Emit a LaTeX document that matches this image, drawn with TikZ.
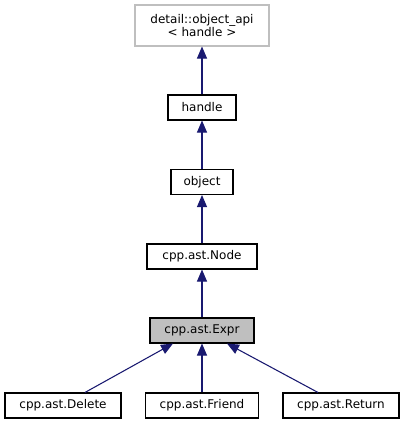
\documentclass[tikz,border=0pt]{standalone}
\usepackage{fontspec}
\setmainfont{DejaVu Sans}
\usetikzlibrary{arrows.meta,calc}
\definecolor{edgeblue}{HTML}{191970}
\definecolor{grayfill}{HTML}{BFBFBF}
\tikzset{
  cls/.style={draw=black, line width=0.8pt, rectangle, inner sep=0pt, minimum height=25*0.75pt, font=\fontsize{9pt}{10.5pt}\selectfont, text=black},
  ext/.style={cls, draw=grayfill},
  cur/.style={cls, fill=grayfill},
  inh/.style={draw=edgeblue, line width=0.8pt, -{Triangle[length=9pt,width=7.5pt]}, shorten >=0pt},
}
\begin{document}
\begin{tikzpicture}[x=0.75pt,y=-0.75pt]
\useasboundingbox (0,0) rectangle (404,425);
\node[ext, minimum width=134*0.75pt, minimum height=41*0.75pt, align=center] (api) at (202,25.5) {detail::object\_api\\[-1pt]{<} handle {>}};
\node[cls, minimum width=68*0.75pt] (handle) at (202,107.5) {handle};
\node[cls, minimum width=62*0.75pt] (object) at (202,182) {object};
\node[cls, minimum width=110*0.75pt] (node) at (202,256.5) {cpp.ast.Node};
\node[cur, minimum width=104*0.75pt] (expr) at (202,330.5) {cpp.ast.Expr};
\node[cls, minimum width=116*0.75pt] (del) at (63,405.5) {cpp.ast.Delete};
\node[cls, minimum width=113*0.75pt] (fri) at (202,405.5) {cpp.ast.Friend};
\node[cls, minimum width=116*0.75pt] (ret) at (341,405.5) {cpp.ast.Return};
\draw[inh] (handle) -- (api);
\draw[inh] (object) -- (handle);
\draw[inh] (node) -- (object);
\draw[inh] (expr) -- (node);
\draw[inh] ($(del.north)+(22,0)$) -- ($(expr.south)+(-29,0)$);
\draw[inh] (fri) -- (expr);
\draw[inh] ($(ret.north)+(-23,0)$) -- ($(expr.south)+(25,0)$);
\end{tikzpicture}
\end{document}
